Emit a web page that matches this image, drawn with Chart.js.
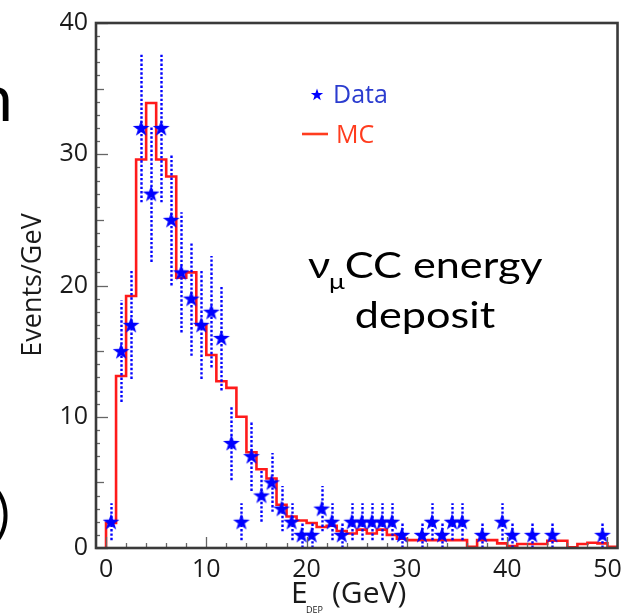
<!DOCTYPE html>
<html><head><meta charset="utf-8">
<script src="https://cdn.jsdelivr.net/npm/chart.js@4/dist/chart.umd.min.js"></script>
<style>html,body{margin:0;padding:0;background:#fff;}canvas{display:block;}</style>
</head><body>
<canvas id="c" width="629" height="616"></canvas>
<script>
// ---- data ----
const binEdges = [0,1,2,3,4,5,6,7,8,9,10,11,12,13,14,15,16,17,18,19,20,21,22,23,24,25,26,27,28,29,30,31,32,33,34,35,36,37,38,39,40,41,42,43,44,45,46,47,48,49,50,51];
const binCenters = [0.5,1.5,2.5,3.5,4.5,5.5,6.5,7.5,8.5,9.5,10.5,11.5,12.5,13.5,14.5,15.5,16.5,17.5,18.5,19.5,20.5,21.5,22.5,23.5,24.5,25.5,26.5,27.5,28.5,29.5,30.5,31.5,32.5,33.5,34.5,35.5,36.5,37.5,38.5,39.5,40.5,41.5,42.5,43.5,44.5,45.5,46.5,47.5,48.5,49.5,50.5];
const dataCounts = [2,15,17,32,27,32,25,21,19,17, 18,16,8,2,7,4,5,3,2,1, 1,3,2,1,2,2,2,2,2,1, 0,1,2,1,2,2,0,1,0,2, 1,0,1,0,1,0,0,0,0,1, 0];
const dataErrors = [1.41,3.87,4.12,5.66,5.2,5.66,5.0,4.58,4.36,4.12, 4.24,4.0,2.83,1.41,2.65,2.0,2.24,1.73,1.41,1.0, 1.0,1.73,1.41,1.0,1.41,1.41,1.41,1.41,1.41,1.0, 0,1.0,1.41,1.0,1.41,1.41,0,1.0,0,1.41, 1.0,0,1.0,0,1.0,0,0,0,0,1.0, 0];
const mcValues = [1.9,13.1,19.2,29.6,33.9,29.6,28.3,20.6,21.0,17.0, 14.7,12.7,12.2,10.0,7.3,6.0,5.3,3.3,2.4,2.1, 1.9,1.6,1.7,1.3,1.1,1.4,1.1,1.4,1.0,0.7, 0.6,0.6,0.6,0.6,0.6,0.6,0.1,0.6,0.6,0.35, 0.15,0.3,0.3,0.3,0.55,0.55,0.05,0.3,0.4,0.35, 0.1];
const xTickValues = [0,10,20,30,40,50];
const yTickValues = [0,10,20,30,40];
const seriesNames = ['Data','MC'];
const xTitleMain = 'E', xTitleSub = 'DEP', xTitleUnit = '(GeV)';
const yTitle = 'Events/GeV';
const noteLine1 = ['\u03BD', '\u03BC', 'CC energy'];
const noteLine2 = 'deposit';

// ---- derived structures ----
const dataPoints = [];
const dataErrPoints = [];
binCenters.forEach((c, i) => {
  if (dataCounts[i] > 0) { dataPoints.push({x: c, y: dataCounts[i]}); dataErrPoints.push({x: c, y: dataCounts[i], e: dataErrors[i]}); }
});
const mcOutline = [{x: binEdges[0], y: 0}];
mcValues.forEach((v, i) => { mcOutline.push({x: binEdges[i], y: v}); mcOutline.push({x: binEdges[i + 1], y: v}); });

const BLUE = '#0000ff';
const RED = '#ff1a1a';

function starPath(ctx, cx, cy, ro, ri) {
  ctx.beginPath();
  for (let k = 0; k < 10; k++) {
    const r = k % 2 === 0 ? ro : ri;
    const a = -Math.PI / 2 + k * Math.PI / 5;
    const px = cx + r * Math.cos(a), py = cy + r * Math.sin(a);
    if (k === 0) ctx.moveTo(px, py); else ctx.lineTo(px, py);
  }
  ctx.closePath();
}
const starImg = document.createElement('canvas');
starImg.width = 20; starImg.height = 20;
(function(){ const g = starImg.getContext('2d'); starPath(g, 10, 10.6, 8.8, 3.5); g.fillStyle = BLUE; g.fill(); })();

const decorPlugin = {
  id: 'decor',
  beforeDatasetDraw(chart, args) {
    if (args.index !== 0) return;
    const {ctx, chartArea: ca, scales: {x, y}} = chart;
    ctx.save();
    ctx.beginPath(); ctx.rect(ca.left, ca.top, ca.right - ca.left, ca.bottom - ca.top); ctx.clip();
    ctx.strokeStyle = BLUE; ctx.lineWidth = 2.4; ctx.setLineDash([2.4, 2.0]);
    dataErrPoints.forEach(p => {
      const px = Math.round(x.getPixelForValue(p.x)) + 0.5;
      ctx.beginPath();
      ctx.moveTo(px, y.getPixelForValue(p.y - p.e));
      ctx.lineTo(px, y.getPixelForValue(p.y + p.e));
      ctx.stroke();
    });
    ctx.restore();
  },
  afterDraw(chart) {
    const {ctx, chartArea: ca, scales: {x, y}} = chart;
    ctx.save();
    // inner tick marks
    ctx.strokeStyle = '#666'; ctx.lineWidth = 1.3;
    for (let v = 0; v <= 50; v += 2) {
      const px = Math.round(x.getPixelForValue(v)) + 0.5;
      const len = v % 10 === 0 ? 11 : 5;
      ctx.beginPath(); ctx.moveTo(px, ca.bottom); ctx.lineTo(px, ca.bottom - len); ctx.stroke();
    }
    for (let v = 0; v <= 40; v += 1) {
      const py = Math.round(y.getPixelForValue(v)) + 0.5;
      const len = v % 10 === 0 ? 12 : (v % 5 === 0 ? 8 : 4);
      ctx.beginPath(); ctx.moveTo(ca.left, py); ctx.lineTo(ca.left + len, py); ctx.stroke();
    }
    // frame
    ctx.strokeStyle = '#3a3a3a'; ctx.lineWidth = 2.6;
    ctx.strokeRect(ca.left, ca.top, ca.right - ca.left, ca.bottom - ca.top);

    // axis titles
    ctx.fillStyle = '#1a1a1a';
    ctx.save();
    ctx.translate(33, 285); ctx.rotate(-Math.PI / 2);
    ctx.font = '27px "Open Sans"'; ctx.textAlign = 'center'; ctx.textBaseline = 'middle';
    ctx.fillText(yTitle, 0, 0);
    ctx.restore();
    ctx.textAlign = 'left'; ctx.textBaseline = 'alphabetic';
    ctx.font = '30px "Open Sans"';
    ctx.fillText(xTitleMain, 291, 603);
    ctx.font = '9px "Open Sans"';
    ctx.fillText(xTitleSub, 306, 613);
    ctx.font = '30px "Open Sans"';
    ctx.fillText(xTitleUnit, 332, 603);

    // legend
    starPath(ctx, 317, 95, 6.5, 2.6); ctx.fillStyle = BLUE; ctx.fill();
    ctx.font = '25px "Open Sans"'; ctx.fillStyle = '#2b3ccf';
    ctx.fillText(seriesNames[0], 333, 103);
    ctx.strokeStyle = '#ff3c1e'; ctx.lineWidth = 2.6;
    ctx.beginPath(); ctx.moveTo(302, 134); ctx.lineTo(328, 134); ctx.stroke();
    ctx.fillStyle = '#ff3c1e';
    ctx.fillText(seriesNames[1], 336, 143);

    // annotation
    ctx.fillStyle = '#000';
    ctx.save();
    ctx.translate(308, 0); ctx.scale(1.2, 1);
    ctx.font = '36px Lato';
    let cx = 0;
    ctx.fillText(noteLine1[0], cx, 278); cx += ctx.measureText(noteLine1[0]).width;
    ctx.font = '22px Lato';
    ctx.fillText(noteLine1[1], cx - 1, 289); cx += ctx.measureText(noteLine1[1]).width - 1;
    ctx.font = '36px Lato';
    ctx.fillText(noteLine1[2], cx, 278);
    ctx.restore();
    ctx.save();
    ctx.translate(425, 0); ctx.scale(1.2, 1);
    ctx.font = '36px Lato'; ctx.textAlign = 'center';
    ctx.fillText(noteLine2, 0, 328);
    ctx.restore();

    // clipped slide text at the left edge
    ctx.fillStyle = '#000'; ctx.textAlign = 'left';
    ctx.font = '64px Lato';
    ctx.fillText('n', -23, 121);
    ctx.font = '52px Lato';
    ctx.fillText(')', -4, 532);
    ctx.restore();
  }
};

new Chart(document.getElementById('c'), {
  type: 'scatter',
  data: {
    datasets: [
      { label: seriesNames[0], data: dataPoints, pointStyle: starImg, pointRadius: 10, showLine: false },
      { label: seriesNames[1], type: 'line', data: mcOutline, borderColor: RED, borderWidth: 2.6, pointRadius: 0, fill: false, tension: 0, borderJoinStyle: 'miter' }
    ]
  },
  options: {
    responsive: false, animation: false, devicePixelRatio: 1,
    layout: { padding: { top: 20, right: 5, left: 0, bottom: 0 } },
    plugins: { legend: { display: false }, tooltip: { enabled: false } },
    scales: {
      x: {
        type: 'linear', min: -1, max: 51,
        grid: { display: false, drawTicks: false }, border: { display: false },
        afterBuildTicks: s => { s.ticks = xTickValues.map(v => ({value: v})); },
        afterFit: s => { s.height = 68; },
        ticks: { padding: 7, color: '#1a1a1a', font: { family: '"Open Sans"', size: 25 }, maxRotation: 0, autoSkip: false }
      },
      y: {
        min: 0, max: 40,
        grid: { display: false, drawTicks: false }, border: { display: false },
        afterBuildTicks: s => { s.ticks = yTickValues.map(v => ({value: v})); },
        afterFit: s => { s.width = 96; },
        ticks: { padding: 8, color: '#1a1a1a', font: { family: '"Open Sans"', size: 25 } }
      }
    }
  },
  plugins: [decorPlugin]
});
</script>
</body></html>
